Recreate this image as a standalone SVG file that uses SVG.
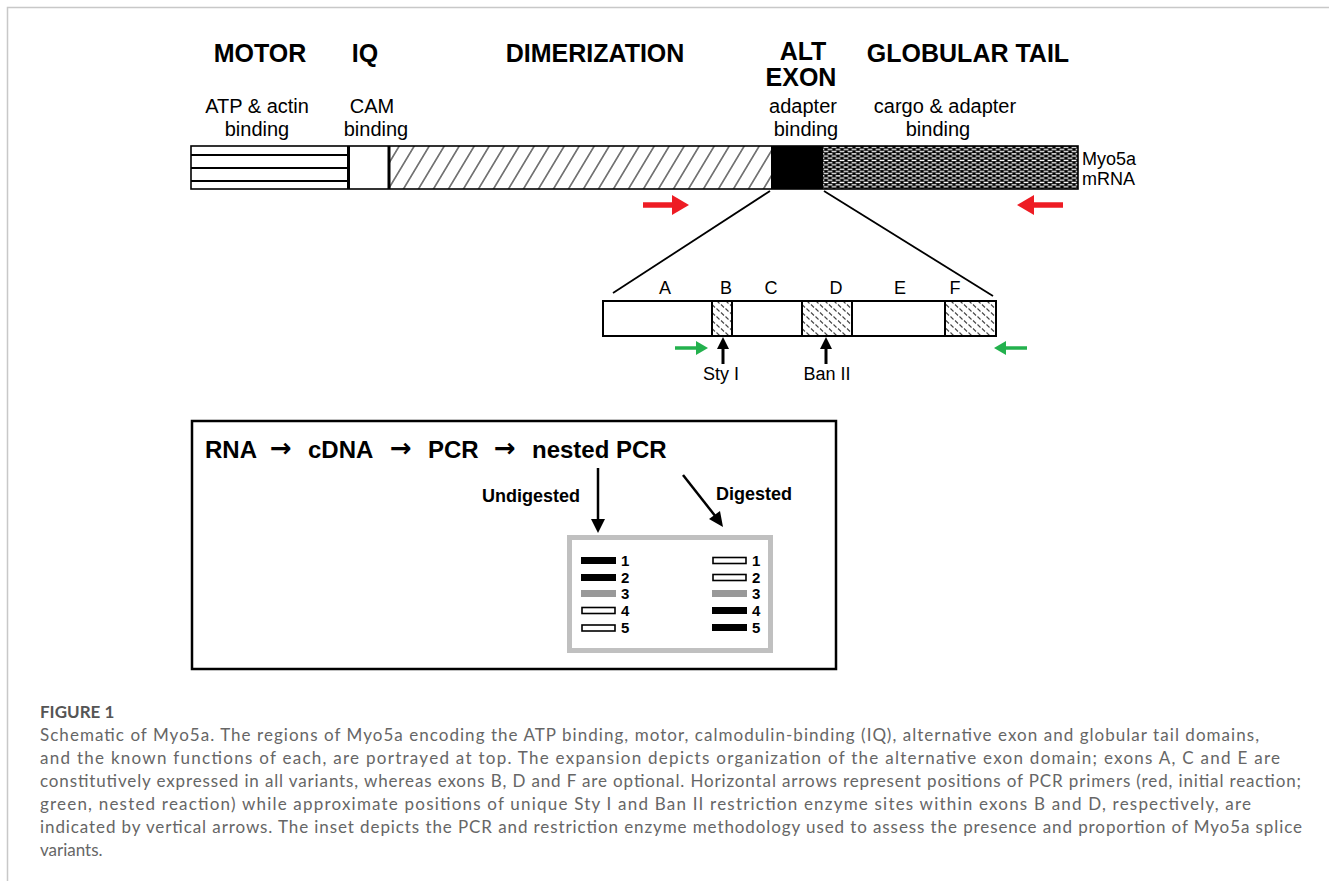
<svg xmlns="http://www.w3.org/2000/svg" width="1329" height="881" viewBox="0 0 1329 881">
<style>
.h{font-family:"Liberation Sans",Arial,sans-serif;font-weight:bold;font-size:25px;fill:#000;text-anchor:middle}
.s{font-family:"Liberation Sans",Arial,sans-serif;font-size:20px;fill:#000;text-anchor:middle}
.e{font-family:"Liberation Sans",Arial,sans-serif;font-size:18px;fill:#000;text-anchor:middle}
.m{font-family:"Liberation Sans",Arial,sans-serif;font-size:18px;fill:#000}
.b{font-family:"Liberation Sans",Arial,sans-serif;font-weight:bold;fill:#000}
.ar{font-family:"DejaVu Sans",sans-serif;font-weight:bold;font-size:26px}
.cap{font-family:Lato,"Open Sans",sans-serif;font-size:17px;fill:#666}
.ln{stroke:#000;stroke-width:1.8;fill:none}
.bk{fill:#000}
.wb{fill:#fff;stroke:#000;stroke-width:1.6}
.gb{fill:#999}
.num{font-family:"Liberation Sans",Arial,sans-serif;font-weight:bold;font-size:15px;fill:#000}
</style>
<defs>
<pattern id="hatch" patternUnits="userSpaceOnUse" width="15" height="10" patternTransform="skewX(-31)">
<rect width="15" height="10" fill="#fff"/>
<line x1="7" y1="0" x2="7" y2="10" stroke="#444" stroke-width="1.5"/>
</pattern>
<pattern id="check" patternUnits="userSpaceOnUse" x="823" y="146" width="8" height="4.4">
<rect width="8" height="4.4" fill="#000"/>
<rect x="0.6" y="0.6" width="4.8" height="1.3" fill="#fff"/>
<rect x="4.6" y="2.8" width="4.8" height="1.3" fill="#fff"/>
<rect x="-3.4" y="2.8" width="4.8" height="1.3" fill="#fff"/>
</pattern>
<pattern id="dash" patternUnits="userSpaceOnUse" width="9" height="8">
<rect width="9" height="8" fill="#fff"/>
<line x1="1" y1="0.5" x2="4" y2="3.5" stroke="#444" stroke-width="1.1"/>
<line x1="5.5" y1="4.5" x2="8.5" y2="7.5" stroke="#444" stroke-width="1.1"/>
</pattern>
</defs>
<rect width="1329" height="881" fill="#fff"/>
<path d="M1329 7.5H7.5V881" fill="none" stroke="#c8c8c8" stroke-width="1.5"/>

<g id="labels-top">
<text class="h" x="260" y="62">MOTOR</text>
<text class="h" x="365" y="62">IQ</text>
<text class="h" x="595" y="62">DIMERIZATION</text>
<text class="h" x="803" y="60">ALT</text>
<text class="h" x="801" y="86">EXON</text>
<text class="h" x="968" y="62">GLOBULAR TAIL</text>
<text class="s" x="257" y="113">ATP &amp; actin</text>
<text class="s" x="257" y="136">binding</text>
<text class="s" x="372" y="113">CAM</text>
<text class="s" x="376" y="136">binding</text>
<text class="s" x="803" y="113">adapter</text>
<text class="s" x="806" y="136">binding</text>
<text class="s" x="945" y="113">cargo &amp; adapter</text>
<text class="s" x="938" y="136">binding</text>
<text class="m" x="1082" y="165">Myo5a</text>
<text class="m" x="1082" y="185">mRNA</text>
</g>

<g id="mrna-bar">
<rect x="191" y="146" width="157" height="43" fill="#fff"/>
<line x1="191" y1="155" x2="348" y2="155" stroke="#000" stroke-width="2.2"/>
<line x1="191" y1="168" x2="348" y2="168" stroke="#000" stroke-width="2.2"/>
<line x1="191" y1="181" x2="348" y2="181" stroke="#000" stroke-width="2.2"/>
<rect x="348" y="146" width="41" height="43" fill="#fff"/>
<rect x="389" y="146" width="382" height="43" fill="url(#hatch)"/>
<rect x="771" y="146" width="52" height="43" fill="#000"/>
<rect x="823" y="146" width="255" height="43" fill="url(#check)"/>
<line x1="348.5" y1="146" x2="348.5" y2="189" stroke="#000" stroke-width="3"/>
<line x1="389" y1="146" x2="389" y2="189" stroke="#000" stroke-width="3"/>
<rect x="191" y="146" width="887" height="43" fill="none" stroke="#000" stroke-width="1.6"/>
</g>

<g id="exon-box">
<rect x="603" y="301" width="393" height="35" fill="#fff"/>
<rect x="712" y="301" width="20" height="35" fill="url(#dash)"/>
<rect x="802" y="301" width="50" height="35" fill="url(#dash)"/>
<rect x="945" y="301" width="51" height="35" fill="url(#dash)"/>
<g stroke="#000" stroke-width="2">
<line x1="712" y1="301" x2="712" y2="336"/>
<line x1="732" y1="301" x2="732" y2="336"/>
<line x1="802" y1="301" x2="802" y2="336"/>
<line x1="852" y1="301" x2="852" y2="336"/>
<line x1="945" y1="301" x2="945" y2="336"/>
</g>
<rect x="603" y="301" width="393" height="35" fill="none" stroke="#000" stroke-width="2"/>
<text class="e" x="665" y="294">A</text>
<text class="e" x="726" y="294">B</text>
<text class="e" x="771" y="294">C</text>
<text class="e" x="836" y="294">D</text>
<text class="e" x="900" y="294">E</text>
<text class="e" x="955" y="294">F</text>
<text class="e" x="721" y="380">Sty I</text>
<text class="e" x="827" y="380">Ban II</text>
</g>

<g id="connectors">
<line class="ln" x1="770" y1="191" x2="613" y2="293"/>
<line class="ln" x1="824" y1="191" x2="993" y2="296"/>
<line x1="643" y1="205" x2="674" y2="205" stroke="#ee1c24" stroke-width="5.5"/>
<polygon points="672,195 689,205 672,215" fill="#ee1c24"/>
<line x1="1063" y1="205" x2="1032" y2="205" stroke="#ee1c24" stroke-width="5.5"/>
<polygon points="1034,195 1017,205 1034,215" fill="#ee1c24"/>
<line x1="675" y1="348" x2="698" y2="348" stroke="#23b14d" stroke-width="3.5"/>
<polygon points="696,341 708,348 696,355" fill="#23b14d"/>
<line x1="1027" y1="348" x2="1004" y2="348" stroke="#23b14d" stroke-width="3.5"/>
<polygon points="1006,341 994,348 1006,355" fill="#23b14d"/>
<line x1="723" y1="364" x2="723" y2="347" stroke="#000" stroke-width="3"/>
<polygon points="717,349 723,337 729,349" fill="#000"/>
<line x1="826" y1="364" x2="826" y2="347" stroke="#000" stroke-width="3"/>
<polygon points="820,349 826,337 832,349" fill="#000"/>
</g>

<g id="inset">
<rect x="192" y="421" width="644" height="248" fill="none" stroke="#000" stroke-width="2.5"/>
<text class="b" font-size="24" y="458"><tspan x="205">RNA</tspan><tspan class="ar" x="270" y="457">→</tspan><tspan x="308" y="458">cDNA</tspan><tspan class="ar" x="390" y="457">→</tspan><tspan x="428" y="458">PCR</tspan><tspan class="ar" x="494" y="457">→</tspan><tspan x="532" y="458">nested PCR</tspan></text>
<text class="b" font-size="18" x="580" y="502" text-anchor="end">Undigested</text>
<text class="b" font-size="18" x="716" y="500">Digested</text>
<line x1="598" y1="468" x2="598" y2="521" stroke="#000" stroke-width="2.5"/>
<polygon points="591,519 598,533 605,519" fill="#000"/>
<line x1="683" y1="475" x2="716" y2="517" stroke="#000" stroke-width="2.5"/>
<polygon points="709,519 723,527 720,511" fill="#000"/>
<rect x="569.5" y="537.5" width="201" height="113" fill="#fff" stroke="#c0c0c0" stroke-width="5"/>
<rect class="bk" x="581" y="557" width="35" height="7"/>
<rect class="bk" x="581" y="574" width="35" height="7"/>
<rect class="gb" x="581" y="590" width="35" height="7"/>
<rect class="wb" x="582" y="607.5" width="33" height="6"/>
<rect class="wb" x="582" y="625" width="33" height="6"/>
<rect class="wb" x="713" y="557.5" width="33" height="6"/>
<rect class="wb" x="713" y="574.5" width="33" height="6"/>
<rect class="gb" x="712" y="590" width="35" height="7"/>
<rect class="bk" x="712" y="607" width="35" height="7"/>
<rect class="bk" x="712" y="624" width="35" height="7"/>
<text class="num" x="621" y="566">1</text>
<text class="num" x="621" y="583">2</text>
<text class="num" x="621" y="599">3</text>
<text class="num" x="621" y="616">4</text>
<text class="num" x="621" y="633">5</text>
<text class="num" x="752" y="566">1</text>
<text class="num" x="752" y="583">2</text>
<text class="num" x="752" y="599">3</text>
<text class="num" x="752" y="616">4</text>
<text class="num" x="752" y="633">5</text>
</g>

<g id="caption">
<text x="40" y="718" font-family="Lato, 'Open Sans', sans-serif" font-weight="bold" font-size="17" fill="#555">FIGURE 1</text>
<text class="cap" x="40" y="741" textLength="1219">Schematic of Myo5a. The regions of Myo5a encoding the ATP binding, motor, calmodulin-binding (IQ), alternative exon and globular tail domains,</text>
<text class="cap" x="40" y="764" textLength="1240">and the known functions of each, are portrayed at top. The expansion depicts organization of the alternative exon domain; exons A, C and E are</text>
<text class="cap" x="40" y="787" textLength="1261">constitutively expressed in all variants, whereas exons B, D and F are optional. Horizontal arrows represent positions of PCR primers (red, initial reaction;</text>
<text class="cap" x="40" y="810" textLength="1211">green, nested reaction) while approximate positions of unique Sty I and Ban II restriction enzyme sites within exons B and D, respectively, are</text>
<text class="cap" x="40" y="833" textLength="1262">indicated by vertical arrows. The inset depicts the PCR and restriction enzyme methodology used to assess the presence and proportion of Myo5a splice</text>
<text class="cap" x="40" y="856">variants.</text>
</g>
</svg>
